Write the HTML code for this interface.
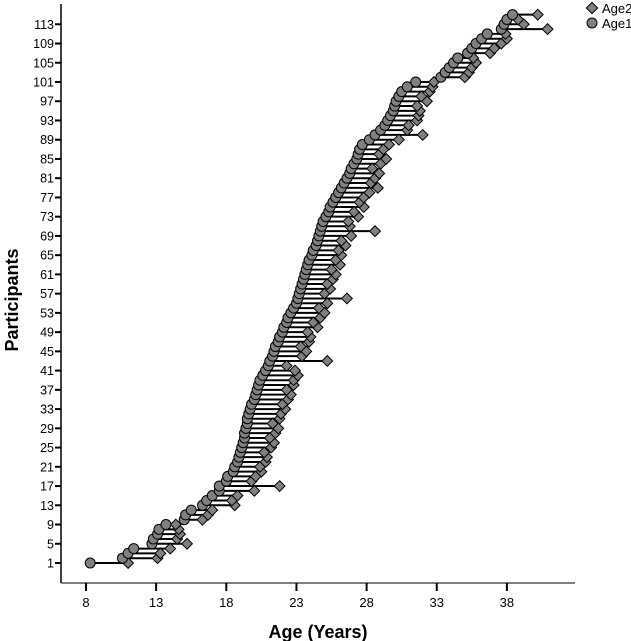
<!DOCTYPE html>
<html><head><meta charset="utf-8"><style>
body{margin:0;background:#fff;}
svg{display:block;font-family:"Liberation Sans",Arial,sans-serif;}
</style></head><body>
<svg id="chart" width="631" height="641" viewBox="0 0 631 641">
<g id="axes"></g>
<g id="marks"></g>
<text x="18" y="300" transform="rotate(-90 18 300)" text-anchor="middle" font-size="18" font-weight="bold">Participants</text>
<text x="318" y="638" text-anchor="middle" font-size="18" font-weight="bold">Age (Years)</text>
<g>
<g>
<rect x="588" y="4" width="8" height="8" transform="rotate(45 592 8)" fill="#808080" stroke="#000" stroke-width="1"></rect>
<text x="602" y="13" font-size="13">Age2</text></g>
<g>
<circle cx="592" cy="23" r="5" fill="#808080" stroke="#000" stroke-width="1"></circle>
<text x="602" y="28" font-size="13">Age1</text></g>
</g>
</svg>
<script>
const age1 = [8.3,10.6,11.0,11.4,12.7,12.8,13.1,13.2,13.7,15.0,15.1,15.5,16.3,16.6,17.0,17.5,17.5,18.0,18.1,18.5,18.6,
18.8,18.9,19.0,19.1,19.2,19.3,19.3,19.4,19.5,19.5,19.6,19.7,19.8,20.0,20.1,20.2,20.3,20.4,
20.6,20.8,21.0,21.1,21.3,21.4,21.5,21.7,21.8,22.0,22.1,22.3,22.4,22.6,22.8,23.0,23.1,
23.2,23.3,23.4,23.5,23.6,23.7,23.8,23.9,24.1,24.2,24.4,24.5,24.6,24.7,24.8,24.9,25.1,25.3,25.4,25.6,
25.8,26.0,26.2,26.4,26.6,26.8,26.9,27.1,27.3,27.4,27.5,27.7,28.2,28.6,29.0,29.3,29.5,
29.7,29.9,30.0,30.1,30.3,30.5,30.9,31.5,33.3,33.6,33.9,34.2,34.5,35.2,35.5,35.8,36.2,36.6,37.6,37.8,38.0,38.4];
const age2 = [11.0,13.1,13.3,14.0,15.2,14.5,14.7,14.6,14.4,16.3,16.7,17.0,18.6,18.4,18.8,20.0,21.8,19.8,20.1,20.5,20.4,
20.8,20.9,20.7,21.2,21.4,21.1,21.5,21.7,21.3,21.8,21.9,22.2,22.0,22.4,22.6,22.3,22.8,22.8,
23.1,22.9,22.3,25.2,23.4,23.7,23.3,23.9,24.0,23.8,24.5,24.2,24.7,25.0,24.6,25.2,26.6,
25.0,25.4,25.2,25.6,25.8,25.5,26.1,25.8,26.2,26.0,26.5,26.2,26.9,28.6,26.8,26.7,27.4,27.1,27.8,27.5,
27.8,28.2,28.8,28.3,28.6,28.9,28.4,29.0,29.4,28.9,29.2,29.6,30.3,32.0,30.9,31.0,31.6,
31.7,31.8,31.6,32.3,31.9,32.5,32.7,32.8,35.0,35.3,35.5,35.8,35.6,36.8,37.1,37.6,38.0,37.9,40.9,39.2,38.8,40.2];
const xTicks = [8,13,18,23,28,33,38];
const yTicks = [1,5,9,13,17,21,25,29,33,37,41,45,49,53,57,61,65,69,73,77,81,85,89,93,97,101,105,109,113];

const NS = "http://www.w3.org/2000/svg";
function xs(a){ return 86 + (a - 8) * 14.03; }
function ys(p){ return 563 - (p - 1) * 4.81; }
function mk(tag, attrs, parent){ const e = document.createElementNS(NS, tag); for (const k in attrs) e.setAttribute(k, attrs[k]); parent.appendChild(e); return e; }

const axes = document.getElementById('axes');
let yl = mk('line', {x1:61, y1:4, x2:61, y2:583, stroke:'#000', 'stroke-width':1.5}, axes);


let xl = mk('line', {x1:61, y1:583, x2:575, y2:583, stroke:'#555', 'stroke-width':1.5}, axes);


xTicks.forEach(t => {
  const tk = mk('line', {x1:xs(t), y1:583, x2:xs(t), y2:591, stroke:'#000', 'stroke-width':2}, axes);
  
  
  const tx = mk('text', {x:xs(t), y:607, 'text-anchor':'middle', 'font-size':13}, axes);
  tx.textContent = t;
  
  
});
yTicks.forEach(t => {
  const tk = mk('line', {x1:55, y1:ys(t), x2:61, y2:ys(t), stroke:'#000', 'stroke-width':2}, axes);
  
  
  const tx = mk('text', {x:54, y:ys(t)+4.5, 'text-anchor':'end', 'font-size':12.5}, axes);
  tx.textContent = t;
  
  
});

const marks = document.getElementById('marks');
age1.forEach((a, i) => {
  const ln = mk('line', {x1:xs(a), y1:ys(i+1), x2:xs(age2[i]), y2:ys(i+1), stroke:'#000', 'stroke-width':2}, marks);
  
  
});
age2.forEach((a, i) => {
  const cx = xs(a), cy = ys(i+1);
  const d = mk('rect', {x:cx-3.8, y:cy-3.8, width:7.6, height:7.6, transform:`rotate(45 ${cx} ${cy})`, fill:'#808080', stroke:'#000', 'stroke-width':1}, marks);
  
  
});
age1.forEach((a, i) => {
  const c = mk('circle', {cx:xs(a), cy:ys(i+1), r:5, fill:'#808080', stroke:'#000', 'stroke-width':1}, marks);
  
  
});
</script>
</body></html>
